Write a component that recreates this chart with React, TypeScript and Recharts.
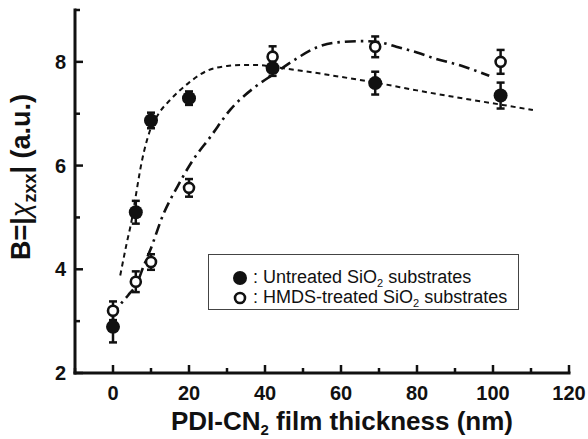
import {
  ComposedChart,
  Scatter,
  Line,
  XAxis,
  YAxis,
  ErrorBar,
  Legend,
} from "recharts";

const FONT = '"Liberation Sans", Arial, Helvetica, sans-serif';
const INK = "#111";

// measured points: film thickness (nm) -> B (a.u.)
const untreatedX = [0, 6, 10, 20, 42, 69, 102];
const untreatedY = [2.89, 5.1, 6.87, 7.3, 7.88, 7.59, 7.35];
const untreatedErr = [0.3, 0.22, 0.15, 0.13, 0.15, 0.22, 0.25];

const hmdsX = [0, 6, 10, 20, 42, 69, 102];
const hmdsY = [3.2, 3.76, 4.14, 5.57, 8.1, 8.29, 8.0];
const hmdsErr = [0.18, 0.2, 0.15, 0.17, 0.2, 0.2, 0.23];

// fitted curves
const untreatedFitX = [1.9, 3.6, 4.9, 5.8, 7.5, 9.8, 12, 15.1, 20, 24.8, 30, 33.6, 38, 42.4, 49.5, 60, 69.8, 80, 90, 102.5, 110.5];
const untreatedFitY = [3.88, 4.5, 4.94, 5.33, 6.05, 6.69, 7.0, 7.27, 7.6, 7.83, 7.92, 7.94, 7.94, 7.9, 7.83, 7.71, 7.59, 7.45, 7.32, 7.17, 7.07];

const hmdsFitX = [-0.5, 2, 4, 6.3, 8, 9.8, 13.3, 17, 20.8, 25.7, 31, 37.1, 42.4, 47.8, 54, 58.3, 65.4, 70, 74.2, 80, 84.9, 91.9, 99];
const hmdsFitY = [3.1, 3.33, 3.5, 3.73, 4.05, 4.37, 5.07, 5.6, 6.08, 6.56, 7.09, 7.5, 7.77, 8.04, 8.29, 8.37, 8.4, 8.38, 8.3, 8.18, 8.06, 7.92, 7.73];

const xTicks = [-10, 0, 10, 20, 30, 40, 50, 60, 70, 80, 90, 100, 110, 120];
const yTicks = [2, 3, 4, 5, 6, 7, 8, 9];

const untreated = untreatedX.map((x, i) => ({ x, y: untreatedY[i], err: untreatedErr[i] }));
const hmds = hmdsX.map((x, i) => ({ x, y: hmdsY[i], err: hmdsErr[i] }));
const untreatedFit = untreatedFitX.map((x, i) => ({ x, y: untreatedFitY[i] }));
const hmdsFit = hmdsFitX.map((x, i) => ({ x, y: hmdsFitY[i] }));

const tickText = { fontFamily: FONT, fontSize: 20, fontWeight: 700, fill: INK };

function BottomTick({ x, y, payload }: any) {
  const v = payload.value;
  const major = v % 20 === 0;
  return (
    <g>
      <line x1={x} x2={x} y1={y} y2={y - (major ? 8 : 5)} stroke={INK} strokeWidth={2.5} />
      {major && (
        <text x={x} y={y + 27} textAnchor="middle" {...tickText}>
          {v}
        </text>
      )}
    </g>
  );
}

function TopTick({ x, y, payload }: any) {
  const major = payload.value % 20 === 0;
  return <line x1={x} x2={x} y1={y} y2={y + (major ? 8 : 5)} stroke={INK} strokeWidth={2.5} />;
}

function LeftTick({ x, y, payload }: any) {
  const v = payload.value;
  const major = v % 2 === 0;
  return (
    <g>
      <line x1={x} x2={x + (major ? 8 : 5)} y1={y} y2={y} stroke={INK} strokeWidth={2.5} />
      {major && v < 9 && (
        <text x={x - 9} y={y + 7} textAnchor="end" {...tickText}>
          {v}
        </text>
      )}
    </g>
  );
}

function RightTick({ x, y, payload }: any) {
  const major = payload.value % 2 === 0;
  return <line x1={x} x2={x - (major ? 8 : 5)} y1={y} y2={y} stroke={INK} strokeWidth={2.5} />;
}

const FilledDot = ({ cx, cy }: any) => <circle cx={cx} cy={cy} r={7} fill={INK} />;
const OpenDot = ({ cx, cy }: any) => (
  <circle cx={cx} cy={cy} r={5} fill="#fff" stroke={INK} strokeWidth={2.6} />
);

const YTitle = () => (
  <text
    transform="translate(30, 177) rotate(-90)"
    textAnchor="middle"
    fontFamily={FONT}
    fontSize={27}
    fontWeight={700}
    fill={INK}
  >
    B=|
    <tspan fontWeight={400} fontStyle="italic">χ</tspan>
    <tspan fontSize={18} dy={6}>zxx</tspan>
    <tspan dy={-6}>| (a.u.)</tspan>
  </text>
);

const XTitle = () => (
  <text x={342} y={430} textAnchor="middle" fontFamily={FONT} fontSize={26} fontWeight={700} fill={INK}>
    PDI-CN
    <tspan fontSize={15} dy={5}>2</tspan>
    <tspan dy={-5}> film thickness (nm)</tspan>
  </text>
);

const Sub2 = () => (
  <span style={{ fontSize: 11, position: "relative", top: 4 }}>2</span>
);

function LegendBox() {
  const row = (marker: React.ReactNode, label: React.ReactNode) => (
    <div style={{ display: "flex", alignItems: "center", height: 20 }}>
      <svg width={16} height={16} style={{ marginLeft: 23 }}>
        {marker}
      </svg>
      <span style={{ marginLeft: 5, fontSize: 18, whiteSpace: "nowrap", lineHeight: "20px" }}>{label}</span>
    </div>
  );
  return (
    <div style={{ fontFamily: FONT, color: INK, paddingTop: 13 }}>
      {row(<circle cx={8} cy={8} r={7} fill={INK} />, <>: Untreated SiO<Sub2 /> substrates</>)}
      {row(
        <circle cx={8} cy={8} r={5} fill="#fff" stroke={INK} strokeWidth={2.6} />,
        <>: HMDS-treated SiO<Sub2 /> substrates</>
      )}
    </div>
  );
}

export default function App() {
  return (
    <div style={{ position: "absolute", left: 0, top: 0, width: 588, height: 439, background: "#fff" }}>
      <ComposedChart width={588} height={439} margin={{ top: 10, right: 19, bottom: 0, left: 0 }}>
        <XAxis
          dataKey="x"
          type="number"
          domain={[-10, 120]}
          ticks={xTicks}
          interval={0}
          height={66}
          tickSize={0}
          tickMargin={0}
          tickLine={false}
          tick={BottomTick}
          axisLine={{ stroke: INK, strokeWidth: 3, strokeLinecap: "square" }}
          label={{ content: XTitle }}
        />
        <XAxis
          xAxisId="top"
          orientation="top"
          type="number"
          domain={[-10, 120]}
          ticks={xTicks}
          interval={0}
          height={0}
          tickSize={0}
          tickMargin={0}
          tickLine={false}
          tick={TopTick}
          axisLine={{ stroke: INK, strokeWidth: 3, strokeLinecap: "square" }}
        />
        <YAxis
          dataKey="y"
          type="number"
          domain={[2, 9]}
          ticks={yTicks}
          interval={0}
          width={75}
          tickSize={0}
          tickMargin={0}
          tickLine={false}
          tick={LeftTick}
          axisLine={{ stroke: INK, strokeWidth: 3, strokeLinecap: "square" }}
          label={{ content: YTitle }}
        />
        <YAxis
          yAxisId="right"
          orientation="right"
          type="number"
          domain={[2, 9]}
          ticks={yTicks}
          interval={0}
          width={0}
          tickSize={0}
          tickMargin={0}
          tickLine={false}
          tick={RightTick}
          axisLine={{ stroke: INK, strokeWidth: 3, strokeLinecap: "square" }}
        />

        <Line
          data={untreatedFit}
          dataKey="y"
          type="monotone"
          stroke={INK}
          strokeWidth={2}
          strokeDasharray="5 4"
          dot={false}
          activeDot={false}
          isAnimationActive={false}
        />
        <Line
          data={hmdsFit}
          dataKey="y"
          type="monotone"
          stroke={INK}
          strokeWidth={2.6}
          strokeDasharray="11 5 2.5 5"
          dot={false}
          activeDot={false}
          isAnimationActive={false}
        />

        <Scatter data={hmds} dataKey="y" shape={OpenDot} isAnimationActive={false}>
          <ErrorBar dataKey="err" direction="y" width={4} stroke={INK} strokeWidth={2.5} isAnimationActive={false} />
        </Scatter>
        <Scatter data={untreated} dataKey="y" shape={FilledDot} isAnimationActive={false}>
          <ErrorBar dataKey="err" direction="y" width={4} stroke={INK} strokeWidth={2.5} isAnimationActive={false} />
        </Scatter>

        <Legend
          layout="vertical"
          align="center"
          verticalAlign="middle"
          wrapperStyle={{
            left: 208,
            top: 254,
            width: 311,
            height: 56,
            border: "1px solid #444",
            background: "#fff",
            boxSizing: "border-box",
          }}
          content={() => <LegendBox />}
        />
      </ComposedChart>
    </div>
  );
}
